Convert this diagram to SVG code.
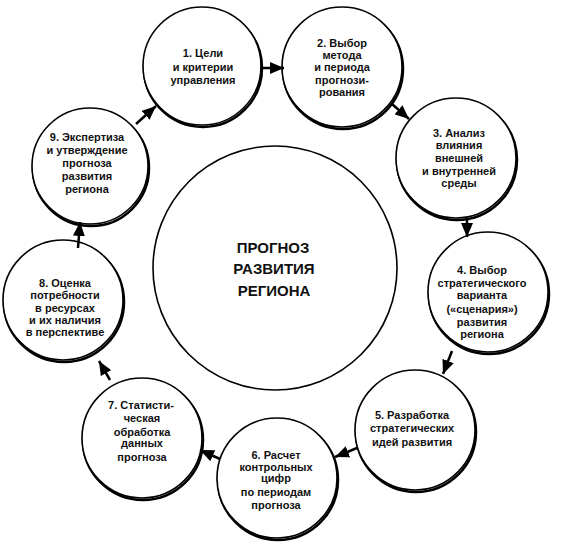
<svg xmlns="http://www.w3.org/2000/svg" width="561" height="547" viewBox="0 0 561 547">
<style>
.sh{fill:none;stroke:#000;stroke-width:2.5}
.c{fill:#fff;stroke:#000;stroke-width:1.6}
.t{font-family:"Liberation Sans",Arial,sans-serif;font-weight:bold;font-size:11px;text-anchor:middle;fill:#111}
.tc{font-family:"Liberation Sans",Arial,sans-serif;font-weight:bold;font-size:15px;text-anchor:middle;fill:#111}
.a{stroke:#000;stroke-width:2.5;fill:none;marker-end:url(#ah)}
</style>
<defs>
<marker id="ah" markerUnits="userSpaceOnUse" markerWidth="14" markerHeight="12" refX="14" refY="6" orient="auto">
<path d="M0,0 L14,6 L0,12 z" fill="#000"/>
</marker>
</defs>
<rect width="561" height="547" fill="#fff"/>
<g id="center">
<circle class="c" cx="275" cy="268" r="122"/>
<text class="tc" x="273" y="253">ПРОГНОЗ</text>
<text class="tc" x="274" y="274">РАЗВИТИЯ</text>
<text class="tc" x="274" y="296">РЕГИОНА</text>
</g>
<g id="n1">
<circle class="sh" cx="203" cy="68" r="59"/>
<circle class="c" cx="202" cy="66" r="59"/>
<text class="t" x="203" y="57">1. Цели</text>
<text class="t" x="203" y="71">и критерии</text>
<text class="t" x="203" y="84">управления</text>
</g>
<g id="n2">
<circle class="sh" cx="343" cy="69" r="60"/>
<circle class="c" cx="342" cy="67" r="60"/>
<text class="t" x="342" y="47">2. Выбор</text>
<text class="t" x="342" y="59">метода</text>
<text class="t" x="342" y="71">и периода</text>
<text class="t" x="342" y="84">прогнози-</text>
<text class="t" x="342" y="96">рования</text>
</g>
<g id="n3">
<circle class="sh" cx="457" cy="160" r="60"/>
<circle class="c" cx="456" cy="158" r="60"/>
<text class="t" x="459" y="137">3. Анализ</text>
<text class="t" x="459" y="149">влияния</text>
<text class="t" x="459" y="162">внешней</text>
<text class="t" x="459" y="175">и внутренней</text>
<text class="t" x="459" y="187">среды</text>
</g>
<g id="n4">
<circle class="sh" cx="489" cy="294" r="60"/>
<circle class="c" cx="488" cy="292" r="60"/>
<text class="t" x="482" y="274">4. Выбор</text>
<text class="t" x="482" y="287">стратегического</text>
<text class="t" x="482" y="299">варианта</text>
<text class="t" x="482" y="313">(«сценария»)</text>
<text class="t" x="482" y="326">развития</text>
<text class="t" x="482" y="338">региона</text>
</g>
<g id="n5">
<circle class="sh" cx="416" cy="432" r="60"/>
<circle class="c" cx="415" cy="430" r="60"/>
<text class="t" x="412" y="419">5. Разработка</text>
<text class="t" x="412" y="432">стратегических</text>
<text class="t" x="412" y="446">идей развития</text>
</g>
<g id="n6">
<circle class="sh" cx="278" cy="480" r="60"/>
<circle class="c" cx="277" cy="478" r="60"/>
<text class="t" x="276" y="459">6. Расчет</text>
<text class="t" x="276" y="471">контрольных</text>
<text class="t" x="276" y="482">цифр</text>
<text class="t" x="276" y="496">по периодам</text>
<text class="t" x="276" y="509">прогноза</text>
</g>
<g id="n7">
<circle class="sh" cx="143" cy="440" r="60"/>
<circle class="c" cx="142" cy="438" r="60"/>
<text class="t" x="141" y="409">7. Статисти-</text>
<text class="t" x="142" y="422">ческая</text>
<text class="t" x="142" y="436">обработка</text>
<text class="t" x="142" y="447">данных</text>
<text class="t" x="142" y="461">прогноза</text>
</g>
<g id="n8">
<circle class="sh" cx="64" cy="302" r="60"/>
<circle class="c" cx="63" cy="300" r="60"/>
<text class="t" x="65" y="287">8. Оценка</text>
<text class="t" x="65" y="299">потребности</text>
<text class="t" x="65" y="312">в ресурсах</text>
<text class="t" x="65" y="324">и их наличия</text>
<text class="t" x="65" y="336">в перспективе</text>
</g>
<g id="n9">
<circle class="sh" cx="91" cy="168" r="58"/>
<circle class="c" cx="90" cy="166" r="58"/>
<text class="t" x="87" y="141">9. Экспертиза</text>
<text class="t" x="87" y="154">и утверждение</text>
<text class="t" x="87" y="167">прогноза</text>
<text class="t" x="87" y="180">развития</text>
<text class="t" x="87" y="193">региона</text>
</g>
<g id="connectors">
<line class="a" x1="261" y1="68" x2="284" y2="68"/>
<line class="a" x1="392" y1="104" x2="409" y2="119"/>
<line class="a" x1="467" y1="218" x2="467" y2="237"/>
<line class="a" x1="452" y1="351" x2="443" y2="374"/>
<line class="a" x1="357" y1="448" x2="335" y2="457"/>
<line class="a" x1="220" y1="459" x2="200" y2="450"/>
<line class="a" x1="110" y1="380" x2="99" y2="361"/>
<line class="a" x1="78" y1="248" x2="80" y2="222"/>
<line class="a" x1="136" y1="124" x2="156" y2="106"/>
</g>
</svg>
